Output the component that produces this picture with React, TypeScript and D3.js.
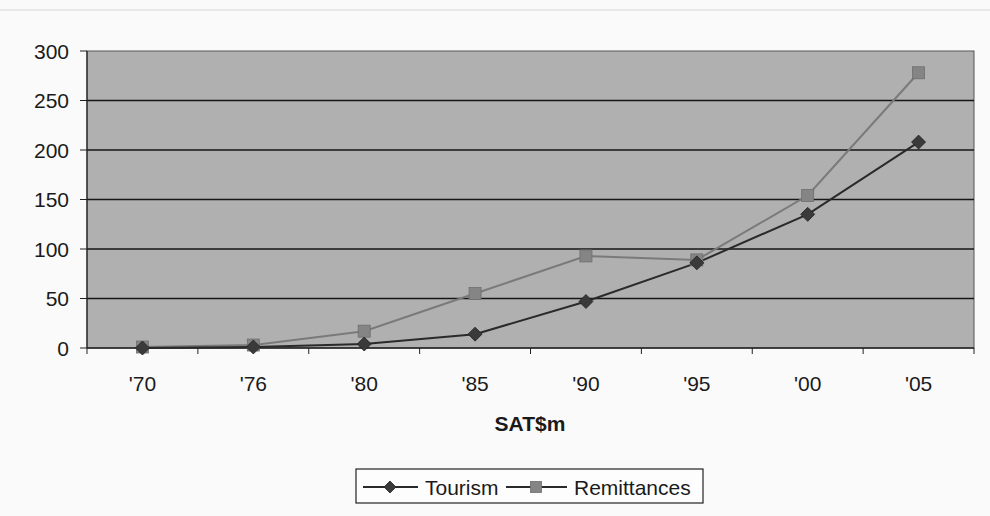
import React from "react";
import * as d3 from "d3";

const categories = ["'70", "'76", "'80", "'85", "'90", "'95", "'00", "'05"];
const tourism = [0, 1, 4, 14, 47, 86, 135, 208];
const remittances = [1, 3, 17, 55, 93, 89, 154, 278];
const yTicks = [0, 50, 100, 150, 200, 250, 300];
const seriesNames = ["Tourism", "Remittances"];

const W = 990, H = 516;
const M = { left: 87, right: 974, top: 51, bottom: 348 };

export default function App() {
  const x = d3.scaleBand<string>().domain(categories).range([M.left, M.right]).padding(0);
  const y = d3.scaleLinear().domain([0, 300]).range([M.bottom, M.top]);
  const cx = (c: string) => (x(c) as number) + x.bandwidth() / 2;
  const line = d3.line<number>().x((_, i) => cx(categories[i])).y((d) => y(d));
  const font = "Arial, 'Liberation Sans', sans-serif";
  const tColor = "#2a2a2a";
  const rColor = "#7a7a7a";
  const boundaries = categories.map((c) => x(c) as number).concat([M.right]);

  const diamond = (px: number, py: number, s: number, key: any) => (
    <path key={key} d={`M${px},${py - s}L${px + s},${py}L${px},${py + s}L${px - s},${py}Z`} fill="#3a3a3a" stroke="#222" strokeWidth={0.8} />
  );
  const square = (px: number, py: number, s: number, key: any) => (
    <rect key={key} x={px - s} y={py - s} width={2 * s} height={2 * s} fill="#858585" stroke="#6e6e6e" strokeWidth={0.8} />
  );

  return (
    <svg width={W} height={H} style={{ position: "absolute", left: 0, top: 0, background: "#fafafa" }}>
      <rect x={0} y={0} width={W} height={H} fill="#fafafa" />
      <line x1={0} x2={W} y1={10} y2={10} stroke="#d8d8d8" strokeWidth={1} />
      <rect x={M.left} y={M.top} width={M.right - M.left} height={M.bottom - M.top} fill="#b0b0b0" stroke="#555" strokeWidth={1} />
      {yTicks.map((t) => (
        <g key={t}>
          {t > 0 && t < 300 && <line x1={M.left} x2={M.right} y1={y(t)} y2={y(t)} stroke="#161616" strokeWidth={1.3} />}
          <line x1={M.left - 7} x2={M.left} y1={y(t)} y2={y(t)} stroke="#222" strokeWidth={1} />
          <text x={69} y={y(t)} dy="0.36em" textAnchor="end" fontFamily={font} fontSize={21} fill="#1a1a1a">{t}</text>
        </g>
      ))}
      <line x1={M.left} x2={M.left} y1={M.top} y2={M.bottom} stroke="#222" strokeWidth={1.2} />
      <line x1={M.left} x2={M.right} y1={M.bottom} y2={M.bottom} stroke="#222" strokeWidth={1.5} />
      {boundaries.map((b, i) => (
        <line key={i} x1={b} x2={b} y1={M.bottom} y2={M.bottom + 6} stroke="#222" strokeWidth={1} />
      ))}
      {categories.map((c) => (
        <text key={c} x={cx(c)} y={383} dy="0.36em" textAnchor="middle" fontFamily={font} fontSize={21} fill="#1a1a1a">{c}</text>
      ))}
      <text x={530} y={423} dy="0.36em" textAnchor="middle" fontFamily={font} fontSize={21} fontWeight="bold" fill="#1a1a1a">SAT$m</text>

      <path d={line(remittances) as string} fill="none" stroke={rColor} strokeWidth={2} />
      <path d={line(tourism) as string} fill="none" stroke={tColor} strokeWidth={2} />
      {remittances.map((v, i) => square(cx(categories[i]), y(v), 6, "r" + i))}
      {tourism.map((v, i) => diamond(cx(categories[i]), y(v), 7, "t" + i))}

      <rect x={356} y={469} width={347} height={34} fill="#fdfdfd" stroke="#222" strokeWidth={1.2} />
      <line x1={363} x2={418} y1={487} y2={487} stroke={tColor} strokeWidth={2} />
      {diamond(390, 487, 6, "lt")}
      <text x={425} y={487} dy="0.36em" fontFamily={font} fontSize={21} fill="#1a1a1a">{seriesNames[0]}</text>
      <line x1={506} x2={567} y1={487} y2={487} stroke={tColor} strokeWidth={2} />
      {square(536, 487, 5.5, "lr")}
      <text x={574} y={487} dy="0.36em" fontFamily={font} fontSize={21} fill="#1a1a1a">{seriesNames[1]}</text>
    </svg>
  );
}
